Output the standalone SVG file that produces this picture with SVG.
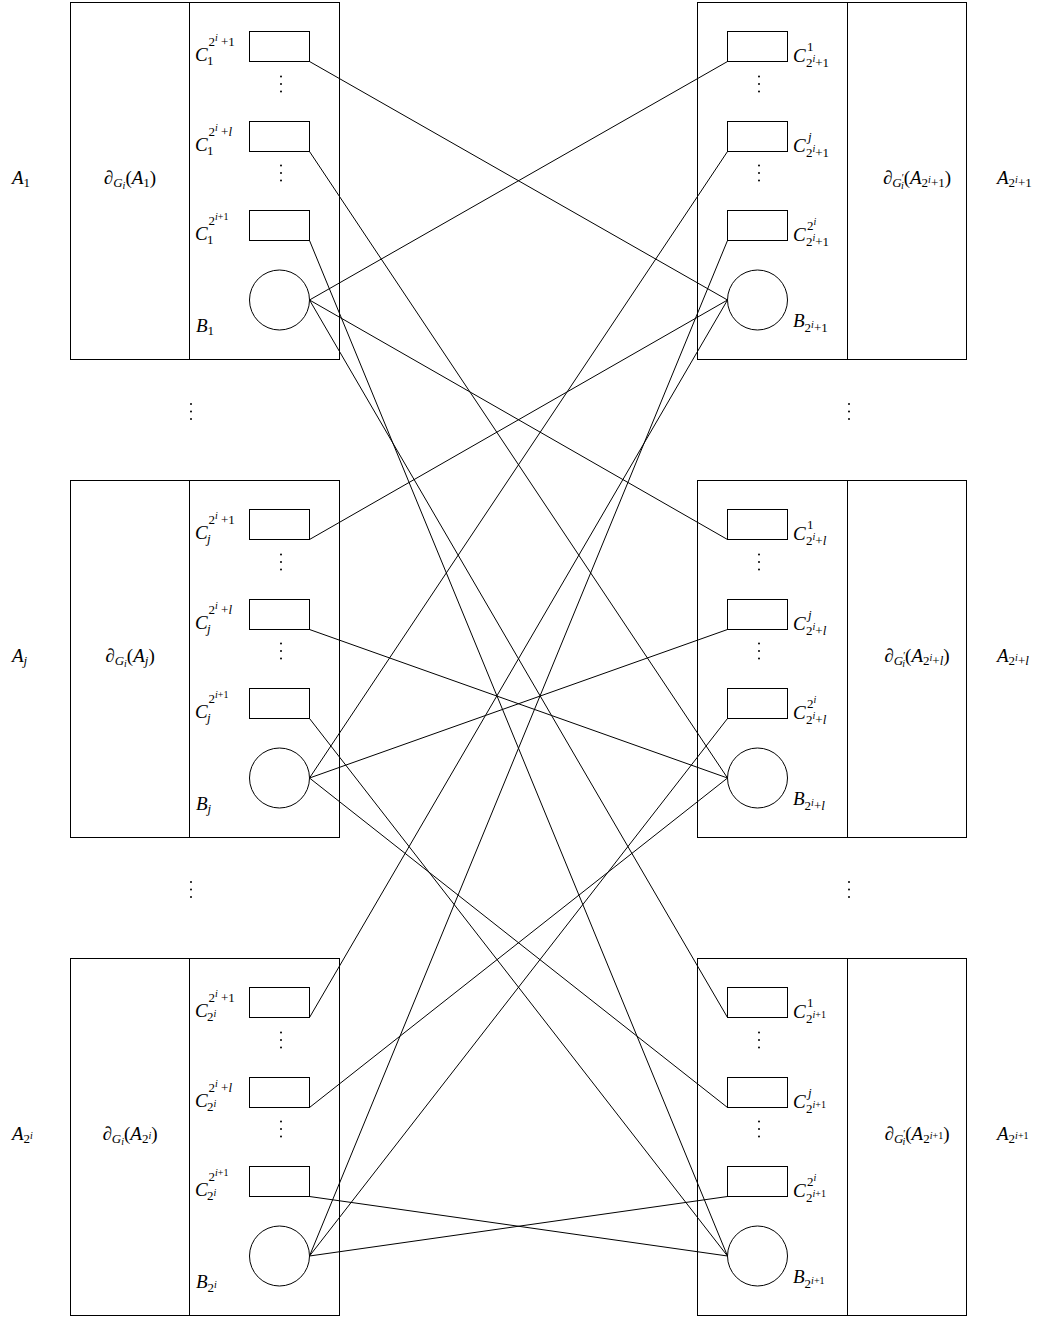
<svg xmlns="http://www.w3.org/2000/svg" width="1046" height="1318" viewBox="0 0 1046 1318">
<style>
.box{fill:none;stroke:#000;stroke-width:1}
.c{fill:#fff;stroke:#000;stroke-width:1}
.ln{stroke:#000;stroke-width:1;fill:none}
.dot{fill:#000}
text{font-family:"Liberation Serif","DejaVu Serif",serif;font-size:19px;font-style:italic;fill:#000}
.n{font-style:normal}
.s{font-size:13px}
.ss{font-size:10px}
</style>
<defs>
<g id="lframe">
<rect class="box" x="70.5" y="2.5" width="269" height="357"/>
<line class="ln" x1="189.5" y1="2.5" x2="189.5" y2="359.5"/>
<rect class="c" x="249.5" y="31.5" width="60" height="30"/>
<rect class="c" x="249.5" y="121.5" width="60" height="30"/>
<rect class="c" x="249.5" y="210.5" width="60" height="30"/>
<circle class="c" cx="279.5" cy="300" r="30"/>
<circle class="dot" cx="281" cy="76.5" r="1"/><circle class="dot" cx="281" cy="84" r="1"/><circle class="dot" cx="281" cy="91.5" r="1"/>
<circle class="dot" cx="281" cy="165.5" r="1"/><circle class="dot" cx="281" cy="173" r="1"/><circle class="dot" cx="281" cy="180.5" r="1"/>
</g>
<g id="rframe">
<rect class="box" x="697.5" y="2.5" width="269" height="357"/>
<line class="ln" x1="847.5" y1="2.5" x2="847.5" y2="359.5"/>
<rect class="c" x="727.5" y="31.5" width="60" height="30"/>
<rect class="c" x="727.5" y="121.5" width="60" height="30"/>
<rect class="c" x="727.5" y="210.5" width="60" height="30"/>
<circle class="c" cx="757.5" cy="300" r="30"/>
<circle class="dot" cx="759" cy="76.5" r="1"/><circle class="dot" cx="759" cy="84" r="1"/><circle class="dot" cx="759" cy="91.5" r="1"/>
<circle class="dot" cx="759" cy="165.5" r="1"/><circle class="dot" cx="759" cy="173" r="1"/><circle class="dot" cx="759" cy="180.5" r="1"/>
</g>
</defs>

<g id="connectors">
<line class="ln" x1="309.5" y1="61.5" x2="727.5" y2="300"/>
<line class="ln" x1="309.5" y1="151.5" x2="727.5" y2="778"/>
<line class="ln" x1="309.5" y1="240.5" x2="727.5" y2="1256"/>
<line class="ln" x1="309.5" y1="539.5" x2="727.5" y2="300"/>
<line class="ln" x1="309.5" y1="629.5" x2="727.5" y2="778"/>
<line class="ln" x1="309.5" y1="718.5" x2="727.5" y2="1256"/>
<line class="ln" x1="309.5" y1="1017.5" x2="727.5" y2="300"/>
<line class="ln" x1="309.5" y1="1107.5" x2="727.5" y2="778"/>
<line class="ln" x1="309.5" y1="1196.5" x2="727.5" y2="1256"/>
<line class="ln" x1="727.5" y1="61.5" x2="309.5" y2="300"/>
<line class="ln" x1="727.5" y1="151.5" x2="309.5" y2="778"/>
<line class="ln" x1="727.5" y1="240.5" x2="309.5" y2="1256"/>
<line class="ln" x1="727.5" y1="539.5" x2="309.5" y2="300"/>
<line class="ln" x1="727.5" y1="629.5" x2="309.5" y2="778"/>
<line class="ln" x1="727.5" y1="718.5" x2="309.5" y2="1256"/>
<line class="ln" x1="727.5" y1="1017.5" x2="309.5" y2="300"/>
<line class="ln" x1="727.5" y1="1107.5" x2="309.5" y2="778"/>
<line class="ln" x1="727.5" y1="1196.5" x2="309.5" y2="1256"/>
</g>

<g id="gaps">
<circle class="dot" cx="191" cy="404" r="1"/><circle class="dot" cx="191" cy="411.5" r="1"/><circle class="dot" cx="191" cy="419" r="1"/>
<circle class="dot" cx="849" cy="404" r="1"/><circle class="dot" cx="849" cy="411.5" r="1"/><circle class="dot" cx="849" cy="419" r="1"/>
<circle class="dot" cx="191" cy="882" r="1"/><circle class="dot" cx="191" cy="889.5" r="1"/><circle class="dot" cx="191" cy="897" r="1"/>
<circle class="dot" cx="849" cy="882" r="1"/><circle class="dot" cx="849" cy="889.5" r="1"/><circle class="dot" cx="849" cy="897" r="1"/>
</g>

<!-- Left block 1 -->
<g id="left1">
<use href="#lframe"/>
<text x="12" y="184">A<tspan class="s n" dy="3">1</tspan></text>
<text x="130" y="184" text-anchor="middle">∂<tspan class="s" dy="3">G</tspan><tspan class="ss" dy="2">i</tspan><tspan class="n" dy="-5">(</tspan>A<tspan class="s n" dy="3">1</tspan><tspan class="n" dy="-3">)</tspan></text>
<text x="195" y="61">C<tspan class="s n" x="208.5" y="46">2</tspan><tspan class="ss" y="41">i</tspan><tspan class="s n" y="46"> +1</tspan><tspan class="s n" x="207" y="65">1</tspan></text>
<text x="195" y="151">C<tspan class="s n" x="208.5" y="136">2</tspan><tspan class="ss" y="131">i</tspan><tspan class="s n" y="136"> +</tspan><tspan class="s" y="136">l</tspan><tspan class="s n" x="207" y="155">1</tspan></text>
<text x="195" y="240">C<tspan class="s n" x="208.5" y="225">2</tspan><tspan class="ss" y="220">i</tspan><tspan class="ss n" y="220">+1</tspan><tspan class="s n" x="207" y="244">1</tspan></text>
<text x="196" y="332">B<tspan class="s n" dy="3">1</tspan></text>
</g>

<!-- Left block j -->
<g id="leftj" transform="translate(0,478)">
<use href="#lframe"/>
<text x="12" y="184">A<tspan class="s" dy="3">j</tspan></text>
<text x="130" y="184" text-anchor="middle">∂<tspan class="s" dy="3">G</tspan><tspan class="ss" dy="2">i</tspan><tspan class="n" dy="-5">(</tspan>A<tspan class="s" dy="3">j</tspan><tspan class="n" dy="-3">)</tspan></text>
<text x="195" y="61">C<tspan class="s n" x="208.5" y="46">2</tspan><tspan class="ss" y="41">i</tspan><tspan class="s n" y="46"> +1</tspan><tspan class="s" x="207" y="65">j</tspan></text>
<text x="195" y="151">C<tspan class="s n" x="208.5" y="136">2</tspan><tspan class="ss" y="131">i</tspan><tspan class="s n" y="136"> +</tspan><tspan class="s" y="136">l</tspan><tspan class="s" x="207" y="155">j</tspan></text>
<text x="195" y="240">C<tspan class="s n" x="208.5" y="225">2</tspan><tspan class="ss" y="220">i</tspan><tspan class="ss n" y="220">+1</tspan><tspan class="s" x="207" y="244">j</tspan></text>
<text x="196" y="332">B<tspan class="s" dy="3">j</tspan></text>
</g>

<!-- Left block 2^i -->
<g id="left2i" transform="translate(0,956)">
<use href="#lframe"/>
<text x="12" y="184">A<tspan class="s n" dy="3">2</tspan><tspan class="ss" dy="-4">i</tspan></text>
<text x="130" y="184" text-anchor="middle">∂<tspan class="s" dy="3">G</tspan><tspan class="ss" dy="2">i</tspan><tspan class="n" dy="-5">(</tspan>A<tspan class="s n" dy="3">2</tspan><tspan class="ss" dy="-4">i</tspan><tspan class="n" dy="1">)</tspan></text>
<text x="195" y="61">C<tspan class="s n" x="208.5" y="46">2</tspan><tspan class="ss" y="41">i</tspan><tspan class="s n" y="46"> +1</tspan><tspan class="s n" x="207" y="65">2</tspan><tspan class="ss" y="61">i</tspan></text>
<text x="195" y="151">C<tspan class="s n" x="208.5" y="136">2</tspan><tspan class="ss" y="131">i</tspan><tspan class="s n" y="136"> +</tspan><tspan class="s" y="136">l</tspan><tspan class="s n" x="207" y="155">2</tspan><tspan class="ss" y="151">i</tspan></text>
<text x="195" y="240">C<tspan class="s n" x="208.5" y="225">2</tspan><tspan class="ss" y="220">i</tspan><tspan class="ss n" y="220">+1</tspan><tspan class="s n" x="207" y="244">2</tspan><tspan class="ss" y="240">i</tspan></text>
<text x="196" y="332">B<tspan class="s n" dy="4">2</tspan><tspan class="ss" dy="-4">i</tspan></text>
</g>

<!-- Right block 2^i+1 -->
<g id="right1">
<use href="#rframe"/>
<text x="997" y="184">A<tspan class="s n" dy="3">2</tspan><tspan class="ss" dy="-4">i</tspan><tspan class="s n" dy="4">+1</tspan></text>
<text x="917" y="184" text-anchor="middle">∂<tspan class="s" dy="3">G</tspan><tspan class="ss n" dy="-6">′</tspan><tspan class="ss" dx="-3" dy="8">i</tspan><tspan class="n" dy="-5">(</tspan>A<tspan class="s n" dy="3">2</tspan><tspan class="ss" dy="-4">i</tspan><tspan class="s n" dy="4">+1</tspan><tspan class="n" dy="-3">)</tspan></text>
<text x="793" y="62">C<tspan class="s n" x="807" y="51">1</tspan><tspan class="s n" x="806" y="67">2</tspan><tspan class="ss" y="62">i</tspan><tspan class="s n" y="67">+1</tspan></text>
<text x="793" y="152">C<tspan class="s" x="808" y="141">j</tspan><tspan class="s n" x="806" y="157">2</tspan><tspan class="ss" y="152">i</tspan><tspan class="s n" y="157">+1</tspan></text>
<text x="793" y="241">C<tspan class="s n" x="807" y="230">2</tspan><tspan class="ss" y="225">i</tspan><tspan class="s n" x="806" y="246">2</tspan><tspan class="ss" y="241">i</tspan><tspan class="s n" y="246">+1</tspan></text>
<text x="793" y="327">B<tspan class="s n" dy="5">2</tspan><tspan class="ss" dy="-4.5">i</tspan><tspan class="s n" dy="4.5">+1</tspan></text>
</g>

<!-- Right block 2^i+l -->
<g id="rightl" transform="translate(0,478)">
<use href="#rframe"/>
<text x="997" y="184">A<tspan class="s n" dy="3">2</tspan><tspan class="ss" dy="-4">i</tspan><tspan class="s n" dy="4">+</tspan><tspan class="s">l</tspan></text>
<text x="917" y="184" text-anchor="middle">∂<tspan class="s" dy="3">G</tspan><tspan class="ss n" dy="-6">′</tspan><tspan class="ss" dx="-3" dy="8">i</tspan><tspan class="n" dy="-5">(</tspan>A<tspan class="s n" dy="3">2</tspan><tspan class="ss" dy="-4">i</tspan><tspan class="s n" dy="4">+</tspan><tspan class="s">l</tspan><tspan class="n" dy="-3">)</tspan></text>
<text x="793" y="62">C<tspan class="s n" x="807" y="51">1</tspan><tspan class="s n" x="806" y="67">2</tspan><tspan class="ss" y="62">i</tspan><tspan class="s n" y="67">+</tspan><tspan class="s" y="67">l</tspan></text>
<text x="793" y="152">C<tspan class="s" x="808" y="141">j</tspan><tspan class="s n" x="806" y="157">2</tspan><tspan class="ss" y="152">i</tspan><tspan class="s n" y="157">+</tspan><tspan class="s" y="157">l</tspan></text>
<text x="793" y="241">C<tspan class="s n" x="807" y="230">2</tspan><tspan class="ss" y="225">i</tspan><tspan class="s n" x="806" y="246">2</tspan><tspan class="ss" y="241">i</tspan><tspan class="s n" y="246">+</tspan><tspan class="s" y="246">l</tspan></text>
<text x="793" y="327">B<tspan class="s n" dy="5">2</tspan><tspan class="ss" dy="-4.5">i</tspan><tspan class="s n" dy="4.5">+</tspan><tspan class="s">l</tspan></text>
</g>

<!-- Right block 2^(i+1) -->
<g id="right2i1" transform="translate(0,956)">
<use href="#rframe"/>
<text x="997" y="184">A<tspan class="s n" dy="3">2</tspan><tspan class="ss" dy="-4">i</tspan><tspan class="ss n">+1</tspan></text>
<text x="917" y="184" text-anchor="middle">∂<tspan class="s" dy="3">G</tspan><tspan class="ss n" dy="-6">′</tspan><tspan class="ss" dx="-3" dy="8">i</tspan><tspan class="n" dy="-5">(</tspan>A<tspan class="s n" dy="3">2</tspan><tspan class="ss" dy="-4">i</tspan><tspan class="ss n">+1</tspan><tspan class="n" dy="1">)</tspan></text>
<text x="793" y="62">C<tspan class="s n" x="807" y="51">1</tspan><tspan class="s n" x="806" y="67">2</tspan><tspan class="ss" y="62">i</tspan><tspan class="ss n" y="62">+1</tspan></text>
<text x="793" y="152">C<tspan class="s" x="808" y="141">j</tspan><tspan class="s n" x="806" y="157">2</tspan><tspan class="ss" y="152">i</tspan><tspan class="ss n" y="152">+1</tspan></text>
<text x="793" y="241">C<tspan class="s n" x="807" y="230">2</tspan><tspan class="ss" y="225">i</tspan><tspan class="s n" x="806" y="246">2</tspan><tspan class="ss" y="241">i</tspan><tspan class="ss n" y="241">+1</tspan></text>
<text x="793" y="327">B<tspan class="s n" dy="5">2</tspan><tspan class="ss" dy="-4.5">i</tspan><tspan class="ss n">+1</tspan></text>
</g>
</svg>
